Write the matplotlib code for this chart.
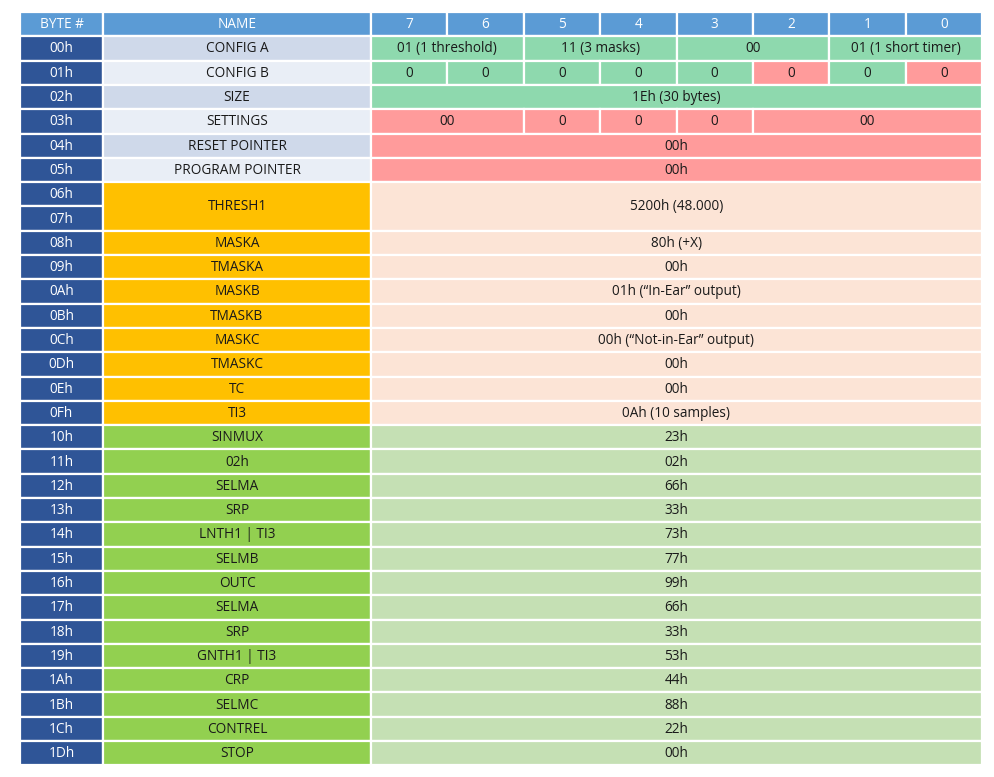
import matplotlib
matplotlib.use("Agg")
import matplotlib.pyplot as plt
from matplotlib.patches import Rectangle

header = ["BYTE #", "NAME", "7", "6", "5", "4", "3", "2", "1", "0"]
bytes_ = ["00h","01h","02h","03h","04h","05h","06h","07h","08h","09h","0Ah","0Bh","0Ch","0Dh","0Eh","0Fh",
          "10h","11h","12h","13h","14h","15h","16h","17h","18h","19h","1Ah","1Bh","1Ch","1Dh"]
names = [("CONFIG A",0,1,"b1"),("CONFIG B",1,1,"b2"),("SIZE",2,1,"b1"),("SETTINGS",3,1,"b2"),
         ("RESET POINTER",4,1,"b1"),("PROGRAM POINTER",5,1,"b2"),("THRESH1",6,2,"o"),("MASKA",8,1,"o"),
         ("TMASKA",9,1,"o"),("MASKB",10,1,"o"),("TMASKB",11,1,"o"),("MASKC",12,1,"o"),("TMASKC",13,1,"o"),
         ("TC",14,1,"o"),("TI3",15,1,"o"),("SINMUX",16,1,"g"),("02h",17,1,"g"),("SELMA",18,1,"g"),
         ("SRP",19,1,"g"),("LNTH1 | TI3",20,1,"g"),("SELMB",21,1,"g"),("OUTC",22,1,"g"),("SELMA",23,1,"g"),
         ("SRP",24,1,"g"),("GNTH1 | TI3",25,1,"g"),("CRP",26,1,"g"),("SELMC",27,1,"g"),("CONTREL",28,1,"g"),
         ("STOP",29,1,"g")]
values = [(0,1,0,2,"01 (1 threshold)","t"),(0,1,2,2,"11 (3 masks)","t"),(0,1,4,2,"00","t"),(0,1,6,2,"01 (1 short timer)","t")]
cfgb_colors = ["t","t","t","t","t","r","t","r"]
values += [(1,1,i,1,"0",c) for i,c in enumerate(cfgb_colors)]
values += [(2,1,0,8,"1Eh (30 bytes)","t"),
           (3,1,0,2,"00","r"),(3,1,2,1,"0","r"),(3,1,3,1,"0","r"),(3,1,4,1,"0","r"),(3,1,5,3,"00","r"),
           (4,1,0,8,"00h","r"),(5,1,0,8,"00h","r"),(6,2,0,8,"5200h (48.000)","p")]
peach_vals = ["80h (+X)","00h","01h (\u201cIn-Ear\u201d output)","00h","00h (\u201cNot-in-Ear\u201d output)","00h","00h","0Ah (10 samples)"]
values += [(8+i,1,0,8,v,"p") for i,v in enumerate(peach_vals)]
green_vals = ["23h","02h","66h","33h","73h","77h","99h","66h","33h","53h","44h","88h","22h","00h"]
values += [(16+i,1,0,8,v,"lg") for i,v in enumerate(green_vals)]

colors = {"hdr":"#5B9BD5","byte":"#2F5597","b1":"#CFD9EA","b2":"#E9EEF6","o":"#FFC000","g":"#92D050",
          "t":"#8ED9AE","r":"#FF9B9B","p":"#FCE4D6","lg":"#C5E0B4"}

fig = plt.figure(figsize=(9.94,7.77), dpi=100)
ax = fig.add_axes([0,0,1,1])
ax.set_xlim(0,994); ax.set_ylim(777,0); ax.axis("off")
plt.rcParams['font.family'] = ['Open Sans','DejaVu Sans']

x0, xb, xn, xe = 20, 103, 371, 982
bw = (xe-xn)/8
y0, rh = 12, 24.3
fs = 9.8

def cell(x, y, w, h, col, text, tc="#1a1a1a"):
    ax.add_patch(Rectangle((x,y), w, h, facecolor=col, edgecolor="white", linewidth=1.6))
    ax.text(x+w/2, y+h/2+0.5, text, ha="center", va="center", fontsize=fs, color=tc)

cell(x0, y0, xb-x0, rh, colors["hdr"], header[0], "white")
cell(xb, y0, xn-xb, rh, colors["hdr"], header[1], "white")
for i in range(8):
    cell(xn+i*bw, y0, bw, rh, colors["hdr"], header[2+i], "white")
ys = lambda r: y0 + rh*(r+1)
for r, b in enumerate(bytes_):
    cell(x0, ys(r), xb-x0, rh, colors["byte"], b, "white")
for t, r, n, k in names:
    cell(xb, ys(r), xn-xb, rh*n, colors[k], t)
for r, n, c, s, t, k in values:
    cell(xn+c*bw, ys(r), bw*s, rh*n, colors[k], t)

fig.savefig("out.png", dpi=100, facecolor="white")
